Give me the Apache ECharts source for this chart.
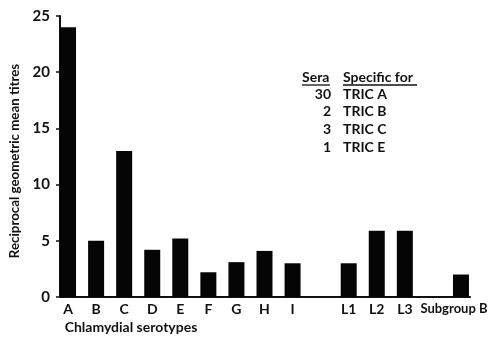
<!DOCTYPE html>
<html>
<head>
<meta charset="utf-8">
<script src="https://cdn.jsdelivr.net/npm/echarts@6/dist/echarts.min.js"></script>
<style>
html,body{margin:0;padding:0;background:#fff;}
#c{width:488px;height:338px;}
</style>
</head>
<body>
<div id="c"></div>
<script>
var categories = ['A','B','C','D','E','F','G','H','I','','L1','L2','L3','','Subgroup B'];
var titres = [24, 5, 13, 4.2, 5.2, 2.2, 3.1, 4.1, 3.0, null, 3.0, 5.9, 5.9, null, 2.0];
var yTicks = [0, 5, 10, 15, 20, 25];
var seraCounts = ['30', '2', '3', '1'];
var seraSpecific = ['TRIC A', 'TRIC B', 'TRIC C', 'TRIC E'];

var FONT = 'Lato, "Open Sans", sans-serif';
var W = 'bold';
var chart = echarts.init(document.getElementById('c'), null, {renderer: 'canvas'});

var catData = categories.map(function (c) {
  if (c === 'Subgroup B') return {value: c, textStyle: {fontSize: 13, padding: [0, 14, 0, 0]}};
  return c;
});

var graphics = [];
var rowY0 = 94, rowStep = 17.7;
graphics.push({type: 'text', x: 302, y: 77, style: {text: 'Sera', font: W + ' 14px ' + FONT, fill: '#111', textVerticalAlign: 'middle'}});
graphics.push({type: 'text', x: 343, y: 77, style: {text: 'Specific for', font: W + ' 14px ' + FONT, fill: '#111', textVerticalAlign: 'middle'}});
graphics.push({type: 'line', shape: {x1: 302, y1: 85, x2: 330, y2: 85}, style: {stroke: '#111', lineWidth: 1.3}});
graphics.push({type: 'line', shape: {x1: 343, y1: 85, x2: 417, y2: 85}, style: {stroke: '#111', lineWidth: 1.3}});
for (var i = 0; i < seraCounts.length; i++) {
  graphics.push({type: 'text', x: 331, y: rowY0 + i * rowStep,
    style: {text: seraCounts[i], font: W + ' 14px ' + FONT, fill: '#111', textAlign: 'right', textVerticalAlign: 'middle'}});
  graphics.push({type: 'text', x: 343, y: rowY0 + i * rowStep,
    style: {text: seraSpecific[i], font: W + ' 14px ' + FONT, fill: '#111', textAlign: 'left', textVerticalAlign: 'middle'}});
}

chart.setOption({
  animation: false,
  backgroundColor: '#ffffff',
  textStyle: {fontFamily: FONT, color: '#111', fontWeight: W},
  grid: [
    {left: 54, right: 13, top: 16, bottom: 41, containLabel: false, outerBoundsMode: 'none'},
    {left: 60, right: 18, top: 16, bottom: 41, containLabel: false, outerBoundsMode: 'none'}
  ],
  xAxis: [
    {
      type: 'category', gridIndex: 0, data: catData,
      axisLine: {show: false}, axisTick: {show: false},
      axisLabel: {interval: 0, fontSize: 14, color: '#111', margin: 5, fontFamily: FONT, fontWeight: W},
      name: 'Chlamydial serotypes', nameLocation: 'middle', nameGap: 20,
      nameTextStyle: {fontSize: 14, color: '#111', padding: [0, 267, 0, 0], fontFamily: FONT, fontWeight: W}
    },
    {
      type: 'value', gridIndex: 1, min: 0, max: 1,
      axisLine: {show: true, lineStyle: {color: '#111', width: 2}},
      axisTick: {show: false}, axisLabel: {show: false}, splitLine: {show: false}
    }
  ],
  yAxis: [
    {
      type: 'value', gridIndex: 0, min: 0, max: 25, interval: 5,
      axisLine: {show: false}, axisTick: {show: false}, axisLabel: {show: false}, splitLine: {show: false}
    },
    {
      type: 'value', gridIndex: 1, min: yTicks[0], max: yTicks[yTicks.length - 1], interval: 5,
      axisLine: {show: true, lineStyle: {color: '#111', width: 2}},
      axisTick: {show: true, length: 4, lineStyle: {color: '#111', width: 1.5}},
      axisLabel: {fontSize: 15, color: '#111', margin: 10, fontFamily: FONT, fontWeight: W},
      splitLine: {show: false},
      name: 'Reciprocal geometric mean titres', nameLocation: 'middle', nameGap: 38,
      nameTextStyle: {fontSize: 13.3, color: '#111', padding: [0, 9, 0, 0], fontFamily: FONT, fontWeight: W}
    }
  ],
  series: [{
    type: 'bar', xAxisIndex: 0, yAxisIndex: 0,
    data: titres, barWidth: 16,
    itemStyle: {color: '#050505'}
  }],
  graphic: graphics
});
</script>
</body>
</html>
